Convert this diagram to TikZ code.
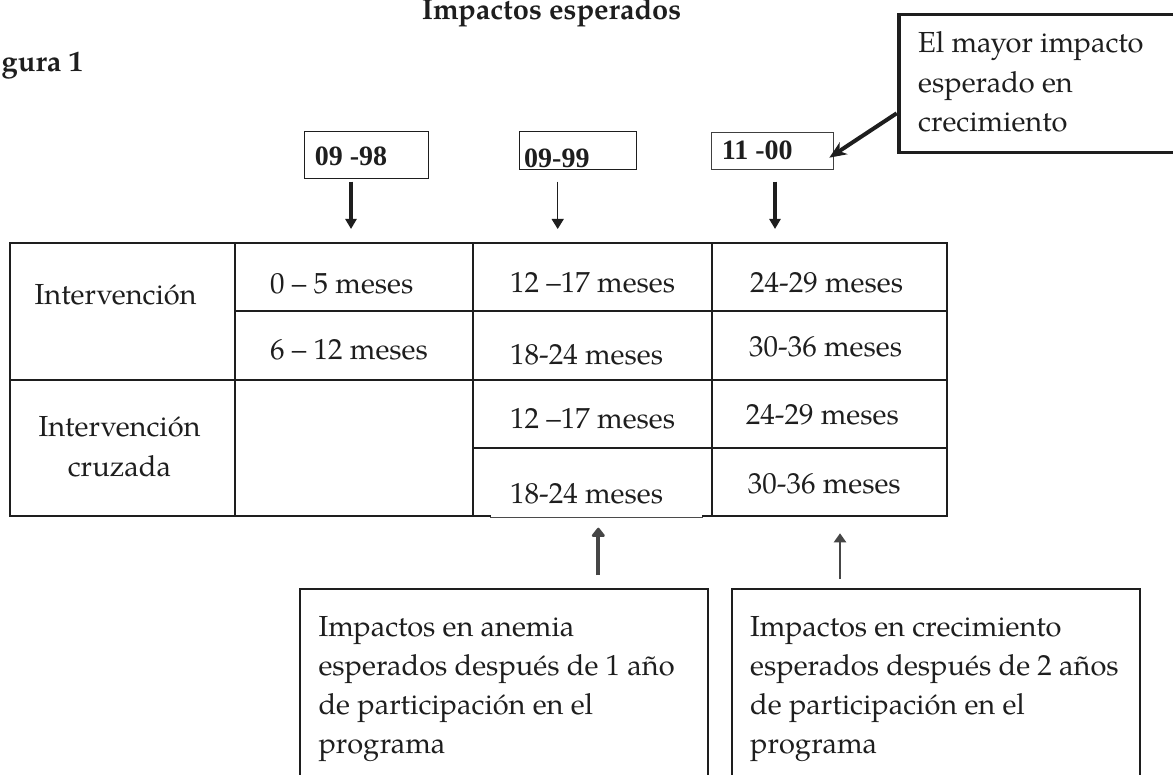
\documentclass[tikz,border=0pt]{standalone}
\usepackage{fontspec}
\setmainfont{texgyrepagella-regular.otf}[BoldFont=texgyrepagella-bold.otf,ItalicFont=texgyrepagella-italic.otf,BoldItalicFont=texgyrepagella-bolditalic.otf]
\newfontfamily\datefont{Liberation Serif}
\usetikzlibrary{arrows.meta}
\definecolor{ink}{HTML}{1E1E1E}
\definecolor{arrowgray}{HTML}{464646}
\tikzset{
  txt/.style={anchor=base west, inner sep=0pt, text=ink, font=\fontsize{29}{39}\selectfont},
  multitxt/.style={anchor=base west, inner sep=0pt, text=ink, align=left, font=\fontsize{29}{39}\selectfont},
  boldtxt/.style={inner sep=0pt, text=ink, font=\fontsize{29}{35}\selectfont\bfseries},
  datetxt/.style={anchor=base west, inner sep=0pt, text=ink, font=\fontsize{28}{32}\datefont\bfseries},
  datebox/.style={draw=ink, line width=1.2pt, anchor=north west, inner sep=0pt},
  callbox/.style={draw=ink, line width=3.5pt, anchor=north west, inner sep=0pt},
  infobox/.style={draw=ink, line width=1.5pt, anchor=north west, inner sep=0pt},
  grid/.style={draw=ink, line width=2pt, line cap=rect},
  thinrule/.style={draw=ink!80, line width=0.9pt},
  downthick/.style={draw=ink, line width=3.2pt, -{Triangle[length=10pt,width=11pt]}},
  downthin/.style={draw=ink, line width=1.3pt, -{Triangle[length=10pt,width=12pt]}},
  upthick/.style={draw=arrowgray, line width=4.3pt, -{Triangle[round,length=10pt,width=15pt]}},
  upthin/.style={draw=arrowgray, line width=2.5pt, -{Triangle[length=9pt,width=12pt]}},
  callarrow/.style={draw=ink, line width=4pt, -{Stealth[length=17pt,width=14pt,inset=5pt]}}
}
\begin{document}
\begin{tikzpicture}[x=1pt,y=-1pt]
\useasboundingbox (0,0) rectangle (1173,775);
\clip (0,0) rectangle (1173,775);
\fill[white] (0,0) rectangle (1173,775);

% titles
\node[boldtxt, anchor=base] (title) at (551.5,19.3) {Impactos esperados};
\node[boldtxt, anchor=base west] (fig) at (1.5,72) {gura 1};

% date boxes
\node[datebox, minimum width=124pt, minimum height=47pt] (d98) at (303.5,131) {};
\node[datetxt] (d98t) at (314.6,166) {09 -98};
\node[datebox, minimum width=117pt, minimum height=38pt] (d99) at (519,131) {};
\node[datetxt] (d99t) at (524,168) {09-99};
\node[datebox, draw=ink!85, minimum width=122pt, minimum height=37.6pt] (d00) at (711,131.7) {};
\node[datetxt] (d00t) at (721.7,160) {11 -00};

% callout (runs past the right edge; anchor = baseline of the last line)
\node[callbox, minimum width=295pt, minimum height=138pt] (call) at (897,12.7) {};
\node[multitxt, font=\fontsize{29}{39.5}\selectfont] (callt) at (918,132) {El mayor impacto\\esperado en\\crecimiento};
\coordinate (callfrom) at (896.7,113.3);
\coordinate (calltip) at (829.3,157.7);
\draw[callarrow] (callfrom) -- (calltip);

% arrows down
\coordinate (a98s) at (351,181.7);
\coordinate (a98e) at (351,229);
\coordinate (a99s) at (557.7,181.7);
\coordinate (a99e) at (557.7,229);
\coordinate (a00s) at (775,181.7);
\coordinate (a00e) at (775,229);
\draw[downthick] (a98s) -- (a98e);
\draw[downthin] (a99s) -- (a99e);
\draw[downthick] (a00s) -- (a00e);

% table
\draw[grid] (9.6,243) -- (947.3,243) -- (947.3,516) -- (703,516);
\draw[grid] (490,516) -- (9.6,516) -- (9.6,243);
\draw[thinrule] (490,517) -- (703,517);
\draw[grid] (235.4,243) -- (235.4,516);
\draw[grid] (473.4,243) -- (473.4,516);
\draw[grid] (712,243) -- (712,516);
\draw[grid] (235.4,311) -- (947.3,311);
\draw[grid] (9.6,380) -- (947.3,380);
\draw[grid] (473.4,448.3) -- (947.3,448.3);

% table texts
\node[txt] (c11) at (34.4,305) {Intervención};
\node[multitxt, align=center, anchor=base, font=\fontsize{29}{39.3}\selectfont] (c21) at (119.5,476) {Intervención\\cruzada};
\node[txt] (r1a) at (270,293.3) {0 – 5 meses};
\node[txt] (r2a) at (270,359.3) {6 – 12 meses};
\node[txt] (r1b) at (510,292.7) {12 –17 meses};
\node[txt] (r1c) at (750,292.7) {24-29 meses};
\node[txt] (r2b) at (510,365) {18-24 meses};
\node[txt] (r2c) at (749,356.7) {30-36 meses};
\node[txt] (r3b) at (510,428.3) {12 –17 meses};
\node[txt] (r3c) at (745.7,425) {24-29 meses};
\node[txt] (r4b) at (510,503.3) {18-24 meses};
\node[txt] (r4c) at (747.7,493.3) {30-36 meses};

% bottom boxes
\node[infobox, minimum width=408.3pt, minimum height=220pt] (anem) at (299,588.3) {};
\node[multitxt, font=\fontsize{29}{38.9}\selectfont] (anemt) at (318.3,753.3) {Impactos en anemia\\esperados después de 1 año\\de participación en el\\programa};
\node[infobox, minimum width=408.3pt, minimum height=220pt] (crec) at (731,588.3) {};
\node[multitxt, font=\fontsize{29}{38.9}\selectfont] (crect) at (750,753.3) {Impactos en crecimiento\\esperados después de 2 años\\de participación en el\\programa};

% arrows up
\coordinate (u1s) at (598.3,575);
\coordinate (u1e) at (598.3,527.7);
\coordinate (u2s) at (840,579);
\coordinate (u2e) at (840,533.3);
\draw[upthick] (u1s) -- (u1e);
\draw[upthin] (u2s) -- (u2e);
\end{tikzpicture}
\end{document}
